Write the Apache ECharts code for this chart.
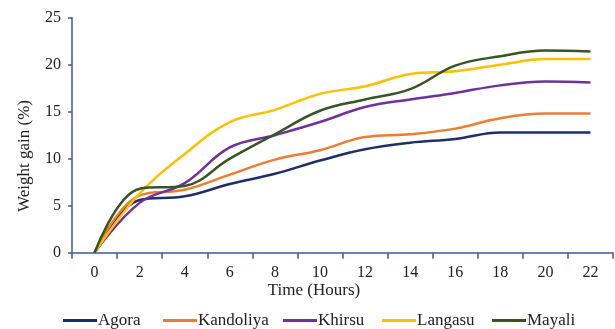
<!DOCTYPE html>
<html>
<head>
<meta charset="utf-8">
<script src="https://cdn.jsdelivr.net/npm/echarts@6/dist/echarts.min.js"></script>
<style>html,body{margin:0;padding:0;background:#fff}#c{width:615px;height:329px}</style>
</head>
<body>
<div id="c"></div>
<script>
const hours = ['0','2','4','6','8','10','12','14','16','18','20','22'];
const agora = [0, 5.6, 6.0, 7.3, 8.4, 9.8, 11.0, 11.7, 12.1, 12.8, 12.8, 12.8];
const kandoliya = [0, 6.1, 6.7, 8.3, 9.9, 10.9, 12.3, 12.6, 13.2, 14.3, 14.8, 14.8];
const khirsu = [0, 5.3, 7.4, 11.2, 12.5, 13.9, 15.5, 16.3, 17.0, 17.8, 18.2, 18.1];
const langasu = [0, 6.3, 10.5, 13.9, 15.2, 16.9, 17.7, 19.0, 19.3, 20.0, 20.6, 20.6];
const mayali = [0, 6.8, 7.1, 10.0, 12.6, 15.1, 16.3, 17.4, 19.9, 20.9, 21.5, 21.4];
const seriesNames = ['Agora','Kandoliya','Khirsu','Langasu','Mayali'];
const seriesData = [agora, kandoliya, khirsu, langasu, mayali];
const colors = ['#1F2D6B','#ED7D31','#7030A0','#FFC000','#375623'];
const legendLeft = [58, 158, 278, 377, 487];
const axisColor = '#3C5A96';
const font = 'Liberation Serif';

const chart = echarts.init(document.getElementById('c'));
chart.setOption({
  animation: false,
  color: colors,
  grid: {left: 72, right: 2, top: 17.7, bottom: 76.3},
  legend: seriesNames.map((n, i) => ({
    data: [n],
    left: legendLeft[i], top: 307,
    icon: 'rect', itemWidth: 34, itemHeight: 3,
    textStyle: {fontFamily: font, fontSize: 17, color: '#222', padding: [0,0,0,-4]}
  })),
  xAxis: {
    type: 'category', data: hours, boundaryGap: true,
    axisLine: {lineStyle: {color: axisColor, width: 1.5}},
    axisTick: {show: true, length: 6, lineStyle: {color: axisColor, width: 1.5}},
    axisLabel: {fontFamily: font, fontSize: 16, color: '#222', margin: 12}
  },
  yAxis: {
    type: 'value', min: 0, max: 25, interval: 5,
    axisLine: {show: true, lineStyle: {color: axisColor, width: 1.5}},
    axisTick: {show: true, length: 4, lineStyle: {color: axisColor, width: 1.5}},
    splitLine: {show: false},
    axisLabel: {fontFamily: font, fontSize: 16, color: '#222', margin: 11}
  },
  graphic: [
    {type: 'text', x: 314, y: 291, style: {text: 'Time (Hours)', font: '17px "Liberation Serif"', fill: '#222', textAlign: 'center', textVerticalAlign: 'middle'}},
    {type: 'text', x: 25, y: 156, rotation: Math.PI/2, style: {text: 'Weight gain (%)', font: '17px "Liberation Serif"', fill: '#222', textAlign: 'center', textVerticalAlign: 'middle'}}
  ],
  series: seriesNames.map((n, i) => ({
    name: n, type: 'line', data: seriesData[i], smooth: 0.4,
    showSymbol: false, lineStyle: {width: 2.5, color: colors[i]}
  }))
});
</script>
</body>
</html>
